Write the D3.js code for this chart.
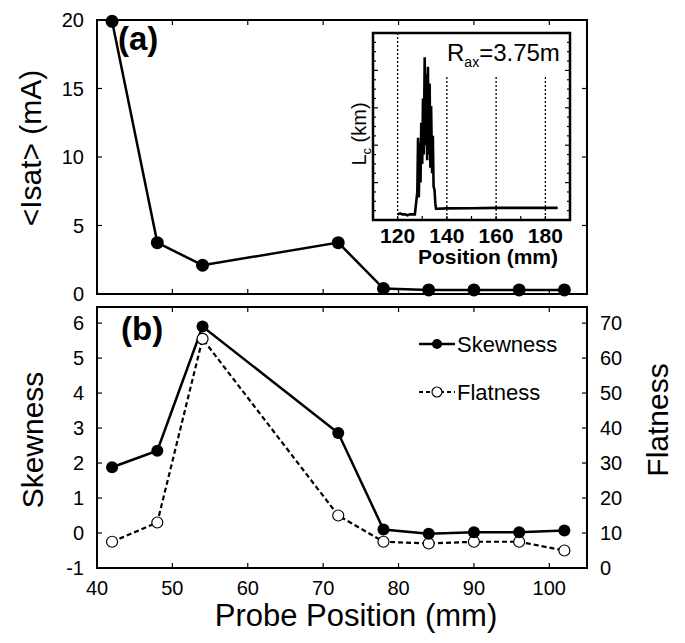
<!DOCTYPE html>
<html>
<head>
<meta charset="utf-8">
<script src="https://cdn.jsdelivr.net/npm/d3@7"></script>
<style>
  html, body { margin: 0; padding: 0; background: #fff; }
  svg { display: block; font-family: "Liberation Sans", Arial, sans-serif; }
</style>
</head>
<body>
<svg id="chart" width="685" height="643"></svg>
<script>
// probe positions (mm) shared by both panels
var probePos = [42, 48, 54, 72, 78, 84, 90, 96, 102];
var isat = [19.9, 3.75, 2.1, 3.75, 0.4, 0.3, 0.3, 0.3, 0.3];
var skewness = [1.88, 2.35, 5.9, 2.86, 0.1, -0.02, 0.02, 0.02, 0.07];
var flatness = [7.5, 13, 65.5, 15, 7.5, 7, 7.5, 7.5, 5];

var xTicks = [40, 50, 60, 70, 80, 90, 100];
var isatTicks = [0, 5, 10, 15, 20];
var skewTicks = [-1, 0, 1, 2, 3, 4, 5, 6];
var flatTicks = [0, 10, 20, 30, 40, 50, 60, 70];

// inset: connection length vs position
var insetPos = [120, 121, 122, 123, 124, 125, 126, 127, 127.5, 128, 128.3, 128.6, 129, 129.3, 129.6,
  130, 130.3, 130.6, 131, 131.3, 131.6, 132, 132.3, 132.6, 133, 133.3, 133.6, 134, 134.3, 134.6,
  135, 135.3, 135.6, 136, 140, 150, 160, 170, 185];
var insetLc = [0.3, 0.35, 0.3, 0.3, 0.25, 0.3, 0.3, 0.3, 0.9, 1.5, 4.4, 1.2, 4.1, 2.0, 5.2,
  3.0, 6.5, 3.5, 8.7, 4.0, 7.8, 3.2, 8.2, 3.5, 7.3, 2.8, 6.1, 2.5, 4.5, 1.8,
  1.6, 0.9, 0.6, 0.6, 0.62, 0.63, 0.65, 0.65, 0.65];
var insetTicks = [120, 140, 160, 180];

var svg = d3.select("#chart");
var L = 97, R = 587;
var aTop = 20, aBot = 294, bTop = 307, bBot = 568;

var x = d3.scaleLinear().domain([40, 105]).range([L, R]);
var yA = d3.scaleLinear().domain([0, 20]).range([aBot, aTop]);
var yS = d3.scaleLinear().domain([-1, 6.46]).range([bBot, bTop]);
var yF = d3.scaleLinear().domain([0, 74.6]).range([bBot, bTop]);

function frame(g, x0, y0, x1, y1, w) {
  g.append("rect").attr("x", x0).attr("y", y0).attr("width", x1 - x0).attr("height", y1 - y0)
    .attr("fill", "none").attr("stroke", "#000").attr("stroke-width", w);
}

function inTicks(g, vals, fn) {
  g.selectAll(null).data(vals).enter().append("line")
    .each(function(d) { var c = fn(d); d3.select(this).attr("x1", c[0]).attr("y1", c[1]).attr("x2", c[2]).attr("y2", c[3]); })
    .attr("stroke", "#000").attr("stroke-width", 1.2);
}

var inner = xTicks.filter(function(d) { return d > 40; });

// ---------- panel (a)
var ga = svg.append("g");
frame(ga, L, aTop, R, aBot, 2);
inTicks(ga, isatTicks.slice(1, 4), function(d) { return [L, yA(d), L + 5, yA(d)]; });
inTicks(ga, isatTicks.slice(1, 4), function(d) { return [R, yA(d), R - 5, yA(d)]; });
inTicks(ga, inner, function(d) { return [x(d), aBot, x(d), aBot - 5]; });
inTicks(ga, inner, function(d) { return [x(d), aTop, x(d), aTop + 5]; });
ga.selectAll(".yl").data(isatTicks).enter().append("text")
  .attr("x", L - 13).attr("y", function(d) { return yA(d) + 7; })
  .attr("text-anchor", "end").attr("font-size", 20).text(function(d) { return d; });

ga.append("path").datum(probePos)
  .attr("d", d3.line().x(function(d) { return x(d); }).y(function(d, i) { return yA(isat[i]); }))
  .attr("fill", "none").attr("stroke", "#000").attr("stroke-width", 2.5);
ga.selectAll(".pa").data(probePos).enter().append("circle")
  .attr("cx", function(d) { return x(d); }).attr("cy", function(d, i) { return yA(isat[i]); })
  .attr("r", 6.5).attr("fill", "#000");

ga.append("text").attr("x", 118).attr("y", 50).attr("font-size", 33).attr("font-weight", "bold").text("(a)");
ga.append("text").attr("transform", "translate(41,148) rotate(-90)")
  .attr("text-anchor", "middle").attr("font-size", 30).text("<Isat> (mA)");

// ---------- inset
var iL = 373, iR = 570, iT = 33, iB = 220;
var xi = d3.scaleLinear().domain([110, 190]).range([iL, iR]);
var yi = d3.scaleLinear().domain([0, 10]).range([iB, iT]);
var gi = svg.append("g");
gi.append("rect").attr("x", iL).attr("y", iT).attr("width", iR - iL).attr("height", iB - iT).attr("fill", "#fff");
gi.selectAll(".grid").data(insetTicks).enter().append("line")
  .attr("x1", function(d) { return xi(d); }).attr("x2", function(d) { return xi(d); })
  .attr("y1", function(d) { return d === 120 ? iT : 77; }).attr("y2", iB)
  .attr("stroke", "#000").attr("stroke-width", 1.3).attr("stroke-dasharray", "2,2");
inTicks(gi, yi.ticks(20), function(d) { return [iL, yi(d), iL + (d % 2 ? 3 : 5), yi(d)]; });
inTicks(gi, yi.ticks(20), function(d) { return [iR, yi(d), iR - (d % 2 ? 3 : 5), yi(d)]; });
inTicks(gi, xi.ticks(8), function(d) { return [xi(d), iB, xi(d), iB - 4]; });
gi.append("path").datum(insetPos)
  .attr("d", d3.line().x(function(d) { return xi(d); }).y(function(d, i) { return yi(insetLc[i]); }))
  .attr("fill", "none").attr("stroke", "#000").attr("stroke-width", 2.6);
frame(gi, iL, iT, iR, iB, 2.5);
gi.selectAll(".xl").data(insetTicks).enter().append("text")
  .attr("x", function(d) { return xi(d); }).attr("y", 243)
  .attr("text-anchor", "middle").attr("font-size", 21).attr("font-weight", "bold").text(function(d) { return d; });
gi.append("text").attr("x", 488).attr("y", 264).attr("text-anchor", "middle")
  .attr("font-size", 21).attr("font-weight", "bold").text("Position (mm)");
var rt = gi.append("text").attr("x", 447).attr("y", 61).attr("font-size", 24);
rt.append("tspan").text("R");
rt.append("tspan").attr("font-size", 14).attr("dy", 6).text("ax");
rt.append("tspan").attr("dy", -6).text("=3.75m");
var lt = gi.append("text").attr("transform", "translate(366,134) rotate(-90)")
  .attr("text-anchor", "middle").attr("font-size", 20);
lt.append("tspan").text("L");
lt.append("tspan").attr("font-size", 13).attr("dy", 5).text("c");
lt.append("tspan").attr("dy", -5).text(" (km)");

// ---------- panel (b)
var gb = svg.append("g");
frame(gb, L, bTop, R, bBot, 2);
inTicks(gb, skewTicks.slice(1), function(d) { return [L, yS(d), L + 5, yS(d)]; });
inTicks(gb, flatTicks.slice(1), function(d) { return [R, yF(d), R - 5, yF(d)]; });
inTicks(gb, inner, function(d) { return [x(d), bBot, x(d), bBot - 5]; });
inTicks(gb, inner, function(d) { return [x(d), bTop, x(d), bTop + 5]; });
gb.selectAll(".sl").data(skewTicks).enter().append("text")
  .attr("x", L - 13).attr("y", function(d) { return yS(d) + 7; })
  .attr("text-anchor", "end").attr("font-size", 20).text(function(d) { return d; });
gb.selectAll(".fl").data(flatTicks).enter().append("text")
  .attr("x", R + 13).attr("y", function(d) { return yF(d) + 7; })
  .attr("font-size", 20).text(function(d) { return d; });
gb.selectAll(".xl").data(xTicks).enter().append("text")
  .attr("x", function(d) { return x(d); }).attr("y", 595)
  .attr("text-anchor", "middle").attr("font-size", 20).text(function(d) { return d; });

gb.append("path").datum(probePos)
  .attr("d", d3.line().x(function(d) { return x(d); }).y(function(d, i) { return yF(flatness[i]); }))
  .attr("fill", "none").attr("stroke", "#000").attr("stroke-width", 2.2).attr("stroke-dasharray", "5,3");
gb.append("path").datum(probePos)
  .attr("d", d3.line().x(function(d) { return x(d); }).y(function(d, i) { return yS(skewness[i]); }))
  .attr("fill", "none").attr("stroke", "#000").attr("stroke-width", 2.5);
gb.selectAll(".pf").data(probePos).enter().append("circle")
  .attr("cx", function(d) { return x(d); }).attr("cy", function(d, i) { return yF(flatness[i]); })
  .attr("r", 5.5).attr("fill", "#fff").attr("stroke", "#000").attr("stroke-width", 1.2);
gb.selectAll(".ps").data(probePos).enter().append("circle")
  .attr("cx", function(d) { return x(d); }).attr("cy", function(d, i) { return yS(skewness[i]); })
  .attr("r", 6).attr("fill", "#000");

gb.append("text").attr("x", 121).attr("y", 340).attr("font-size", 33).attr("font-weight", "bold").text("(b)");
gb.append("text").attr("transform", "translate(43,440) rotate(-90)")
  .attr("text-anchor", "middle").attr("font-size", 30).text("Skewness");
gb.append("text").attr("transform", "translate(668,420) rotate(-90)")
  .attr("text-anchor", "middle").attr("font-size", 30).text("Flatness");
svg.append("text").attr("x", 356).attr("y", 626).attr("text-anchor", "middle")
  .attr("font-size", 31).text("Probe Position (mm)");

// legend
var lg = svg.append("g");
lg.append("line").attr("x1", 419).attr("x2", 455).attr("y1", 344).attr("y2", 344)
  .attr("stroke", "#000").attr("stroke-width", 2.5);
lg.append("circle").attr("cx", 437).attr("cy", 344).attr("r", 5).attr("fill", "#000");
lg.append("text").attr("x", 457).attr("y", 352).attr("font-size", 22).text("Skewness");
lg.append("line").attr("x1", 419).attr("x2", 455).attr("y1", 392).attr("y2", 392)
  .attr("stroke", "#000").attr("stroke-width", 2).attr("stroke-dasharray", "4,3");
lg.append("circle").attr("cx", 437).attr("cy", 392).attr("r", 5).attr("fill", "#fff")
  .attr("stroke", "#000").attr("stroke-width", 1.2);
lg.append("text").attr("x", 457).attr("y", 400).attr("font-size", 22).text("Flatness");
</script>
</body>
</html>
